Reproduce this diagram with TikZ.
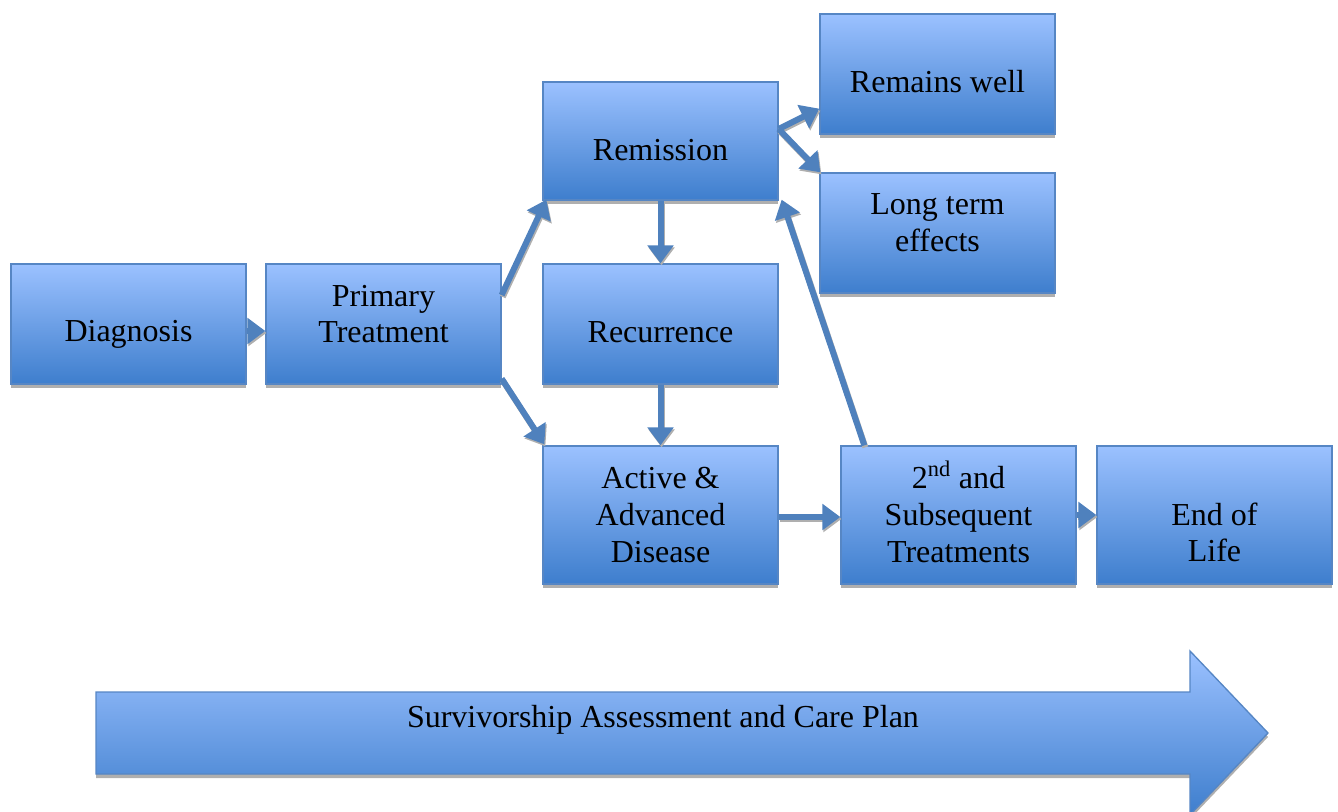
\documentclass[tikz,border=0pt]{standalone}
\usepackage{fontspec}
\setmainfont{Liberation Serif}
\usetikzlibrary{arrows.meta,calc}
\definecolor{boxtop}{RGB}{155,193,255}
\definecolor{boxbot}{RGB}{62,126,205}
\definecolor{boxline}{RGB}{86,134,196}
\definecolor{conn}{RGB}{79,129,189}
\definecolor{shad}{RGB}{175,175,175}
\begin{document}
\begin{tikzpicture}[x=0.75pt,y=-0.75pt,
  every label/.style={font=\fontsize{24}{27.6}\selectfont,align=center,inner sep=0pt},
  stagebox/.style={draw=boxline,line width=1pt,top color=boxtop,bottom color=boxbot,
    minimum width=176.25pt,minimum height=90pt,inner sep=0pt,
    preaction={fill=shad,transform canvas={yshift=-3pt}}},
  tallbox/.style={stagebox,minimum height=103.5pt},
  remhbox/.style={stagebox,minimum height=88.5pt},
  txt/.style 2 args={label={[yshift=#1]center:{#2}}},
  conn/.style={draw=conn,line width=4.5pt,-{Triangle[width=19pt,length=13.5pt]},
    preaction={draw=shad,line width=4.5pt,-{Triangle[width=19pt,length=13.5pt]},transform canvas={yshift=-1.5pt,xshift=0.8pt}}}
]
\useasboundingbox (0,0) rectangle (1338,812);

% boxes
\node[stagebox,txt={-7.5pt}{Diagnosis}] (diag) at (128.5,324) {};
\node[stagebox,txt={7.5pt}{Primary\\Treatment}] (prim) at (383.5,324) {};
\node[remhbox,txt={-6.75pt}{Remission}] (rem) at (660.5,141) {};
\node[stagebox,txt={-6pt}{Recurrence}] (rec) at (660.5,324) {};
\node[tallbox,txt={0pt}{Active \&\\Advanced\\Disease}] (act) at (660.5,515) {};
\node[stagebox,txt={-6pt}{Remains well}] (rw) at (937.5,74) {};
\node[stagebox,txt={7.5pt}{Long term\\effects}] (lt) at (937.5,233) {};
\node[tallbox,txt={2.25pt}{2\textsuperscript{nd} and\\Subsequent\\Treatments}] (sec) at (958.5,515) {};
\node[tallbox,txt={-13pt}{End of\\Life}] (eol) at (1214.5,515) {};

% connectors
\draw[conn] ($(diag.east)+(0,7)$) -- ($(prim.west)+(0,7)$);
\draw[conn] ($(prim.east)+(0,-29)$) -- ($(rem.south west)+(4,-1)$);
\draw[conn] ($(prim.south east)+(0,-6)$) -- ($(act.north west)+(2,-1)$);
\draw[conn] (rem.south) -- (rec.north);
\draw[conn] (rec.south) -- (act.north);
\draw[conn] ($(rem.east)+(0,-12)$) -- ($(rw.south west)+(0,-26)$);
\draw[conn] ($(rem.east)+(0,-12)$) -- ($(lt.north west)+(1,0)$);
\draw[conn] ($(sec.north west)+(24,0)$) -- ($(rem.south east)+(3,-1)$);
\draw[conn] ($(act.east)+(0,2)$) -- ($(sec.west)+(0,2)$);
\draw[conn] (sec.east) -- (eol.west);

% big arrow
\path[draw=boxline,line width=1pt,top color=boxtop,bottom color=boxbot,
  preaction={fill=shad,transform canvas={yshift=-3pt}}]
  (96,692) coordinate (ba) -- (1190,692) -- (1190,651) -- (1268,733) -- (1190,815) -- (1190,774) -- (96,774) -- cycle;
\node[font=\fontsize{24}{27.6}\selectfont] (plan) at (663,720) {Survivorship Assessment and Care Plan};
\end{tikzpicture}
\end{document}
